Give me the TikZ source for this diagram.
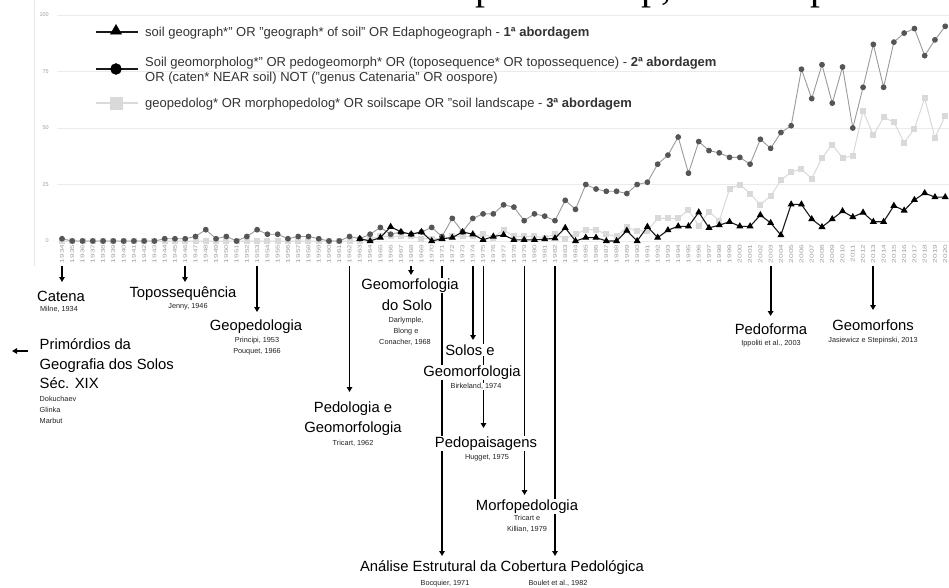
\documentclass[tikz,border=0pt]{standalone}
\usepackage{fontspec}
\usepackage{graphicx}
\setmainfont{Liberation Sans}
\newfontfamily\serifcut{Liberation Serif}
\usetikzlibrary{arrows.meta,backgrounds,plotmarks}

\definecolor{gridc}{HTML}{EBEBEB}
\definecolor{axisc}{HTML}{E8E8E8}
\definecolor{axislbl}{HTML}{A0A0A0}
\definecolor{serA}{HTML}{1A1A1A}
\definecolor{serBline}{HTML}{9A9A9A}
\definecolor{serBmark}{HTML}{555555}
\definecolor{serC}{HTML}{D9D9D9}
\definecolor{legtext}{HTML}{333333}
\definecolor{reftext}{HTML}{222222}

\tikzset{
 big/.style={font=\fontsize{14.8}{17}\selectfont, inner sep=0.5pt, fill=white, anchor=base},
 ref/.style={font=\fontsize{7.3}{8.5}\selectfont, text=reftext, inner sep=0.5pt, fill=white, anchor=base},
 arr/.style={-{Triangle[length=5pt,width=5.5pt]}, line width=1.8pt},
 leg/.style={font=\fontsize{13}{15}\selectfont, text=legtext, anchor=base west, inner sep=0pt},
 yrlbl/.style={font=\fontsize{5.5}{6}\selectfont, text=axislbl, rotate=90, anchor=east, inner sep=0pt},
 ticklbl/.style={font=\fontsize{5.5}{6}\selectfont, text=axislbl, anchor=east, inner sep=0pt},
 fragtext/.style={font=\serifcut\fontsize{40}{40}\selectfont, anchor=base, inner sep=0pt},
}

\begin{document}
\begin{tikzpicture}[x=1pt,y=-1pt]
\useasboundingbox (0,0) rectangle (949,588);
\begin{pgfonlayer}{background}
\fill[white] (0,0) rectangle (949,588);
\end{pgfonlayer}

% cut-off text of the page above
\begin{scope}
\clip (0,0) rectangle (949,588);
\node[fragtext] (frag1) at (485,-0.5) {p};
\node[fragtext] (frag2) at (656,-0.5) {p,};
\node[fragtext] (frag3) at (820,-0.5) {p};
\end{scope}

% axis and grid
\draw[axisc, line width=0.8pt] (34,0) -- (34,266);
\foreach \v in {0,25,50,75,100}{
  \draw[gridc, line width=0.8pt] (57,{241-2.26*\v}) -- (949,{241-2.26*\v});
  \node[ticklbl] (tk\v) at (49,{241-2.26*\v}) {\v};
}
\foreach \i in {0,...,86}{
  \pgfmathtruncatemacro{\yr}{1934+\i}
  \node[yrlbl] (yl\i) at ({62+10.27*\i},244.5) {\scalebox{1.5}[1]{\yr}};
}

% data series
\begin{scope}[shift={(62,241)}, x=10.27pt, y=2.26pt]
\draw[serC, line width=1pt] plot[mark=square*, mark size=2.5pt, mark options={fill=serC, draw=serC}] coordinates {
(0,0)(1,0)(2,0)(3,0)(4,0)(5,0)(6,0)(7,0)(8,0)(9,0)(10,0)(11,0)(12,0)(13,0)(14,0)(15,0)(16,0)(17,0)(18,0)(19,0)(20,0)(21,0)(22,0)(23,0)(24,0)(25,0)(26,0)(27,0)(28,0)(29,0)
(30,1)(31,2)(32,2)(33,2)(34,2)(35,1)(36,1)(37,1)(38,2)(39,2)(40,2)(41,3)(42,1.5)(43,5)(44,2)(45,2)(46,2)(47,1.5)(48,3)(49,1)(50,3)(51,5)(52,5)(53,3)(54,2)(55,6)(56,4.4)(57,4.5)(58,10)(59,10)(60,10)(61,13.8)(62,6.8)(63,13)(64,9)(65,23)(66,25)(67,21)(68,16)(69,20)(70,26.8)(71,30.6)(72,31.8)(73,27.6)(74,36.8)(75,42.6)(76,36.8)(77,37.6)(78,57.6)(79,46.8)(80,54.7)(81,52.6)(82,43.5)(83,49.7)(84,63.2)(85,45.6)(86,55.4)};
\draw[serBline, line width=0.9pt] plot[mark=*, mark size=2.4pt, mark options={fill=serBmark, draw=serBmark}] coordinates {
(0,1)(1,0)(2,0)(3,0)(4,0)(5,0)(6,0)(7,0)(8,0)(9,0)(10,1)(11,1)(12,1)(13,2)(14,5)(15,1)(16,2)(17,0)(18,2)(19,5)(20,3)(21,3)(22,1)(23,2)(24,2)(25,1)(26,0)(27,0)(28,2)(29,1)(30,3)(31,6)(32,3)(33,4)(34,3)(35,4)(36,6)(37,2)(38,10)(39,4)(40,10)(41,12)(42,12)(43,16)(44,15)(45,9)(46,12)(47,11)(48,9)(49,18)(50,14)(51,25)(52,23)(53,22)(54,22)(55,21)(56,25)(57,26)(58,34)(59,38)(60,46)(61,30)(62,44)(63,40)(64,39)(65,37)(66,37)(67,34)(68,45)(69,41)(70,48)(71,51)(72,76)(73,63)(74,78)(75,61)(76,77)(77,50)(78,68)(79,87)(80,68)(81,88)(82,92)(83,94)(84,82)(85,89)(86,95)};
\draw[serA, line width=1.1pt] plot[mark=triangle*, mark size=3pt, mark options={fill=black, draw=black}] coordinates {
(29,1)(30,0)(31,1.5)(32,6.3)(33,4)(34,3)(35,4)(36,0)(37,1)(38,1.5)(39,4)(40,3)(41,0.5)(42,2)(43,2.7)(44,0.5)(45,0.5)(46,0.5)(47,0.8)(48,1.2)(49,5.8)(50,0)(51,1.5)(52,1.5)(53,0)(54,0)(55,4.6)(56,0)(57,6.3)(58,1.5)(59,4.8)(60,6.5)(61,6.5)(62,12.7)(63,5.8)(64,7)(65,8.5)(66,6.5)(67,6.5)(68,11.5)(69,8)(70,2.6)(71,16.2)(72,16.2)(73,9.7)(74,6.2)(75,9.7)(76,13.2)(77,10.6)(78,12.6)(79,8.5)(80,8.5)(81,15.6)(82,13.5)(83,18.2)(84,21.2)(85,19.4)(86,19.4)};
\end{scope}

% legend
\draw[serA, line width=2.2pt] (96,32) -- (138,32);
\path plot[mark=triangle*, mark size=6.5pt, mark options={fill=black, draw=black}] coordinates {(116,31)};
\node[leg] (leg1) at (145,36.5) {soil geograph*" OR "geograph* of soil" OR Edaphogeograph - \textbf{1ª abordagem}};
\draw[serA, line width=2.2pt] (96,69) -- (138,69);
\path plot[mark=*, mark size=5.5pt, mark options={fill=black, draw=black}] coordinates {(116,69)};
\node[leg] (leg2a) at (145,66.5) {Soil geomorpholog*" OR pedogeomorph* OR (toposequence* OR topossequence) - \textbf{2ª abordagem}};
\node[leg] (leg2b) at (145,81.5) {OR (caten* NEAR soil) NOT ("genus Catenaria" OR oospore)};
\draw[serC, line width=2.2pt] (96,103) -- (138,103);
\path plot[mark=square*, mark size=6pt, mark options={fill=serC, draw=serC}] coordinates {(116,103)};
\node[leg] (leg3) at (145,107.5) {geopedolog* OR morphopedolog* OR soilscape OR "soil landscape - \textbf{3ª abordagem}};

% timeline labels
\node[big] (catena) at (61,301.5) {Catena};
\node[ref] (milne) at (59,311.5) {Milne, 1934};
\node[big] (topo) at (183,297.5) {Topossequência};
\node[ref] (jenny) at (188,308.5) {Jenny, 1946};
\node[big] (geoped) at (256,330.5) {Geopedologia};
\node[ref] (principi) at (257,342.5) {Principi, 1953};
\node[ref] (pouquet) at (257,353.5) {Pouquet, 1966};
\node[big, anchor=base west] (prim1) at (39,349.5) {Primórdios da};
\node[big, anchor=base west] (prim2) at (39,369.5) {Geografia dos Solos};
\node[big, anchor=base west] (prim3) at (39,388.5) {Séc. XIX};
\node[ref, anchor=base west] (doku) at (39,401.5) {Dokuchaev};
\node[ref, anchor=base west] (glinka) at (39,412.5) {Glinka};
\node[ref, anchor=base west] (marbut) at (39,423.5) {Marbut};
\node[big] (pg1) at (353,412.5) {Pedologia e};
\node[big] (pg2) at (353,432.5) {Geomorfologia};
\node[ref] (tricartA) at (353,445.5) {Tricart, 1962};
\node[big] (gs1) at (410,289.5) {Geomorfologia};
\node[big] (gs2) at (407,310.5) {do Solo};
\node[ref] (darl) at (406,322.5) {Darlymple,};
\node[ref] (blong) at (406,333.5) {Blong e};
\node[ref] (conacher) at (405,344.5) {Conacher, 1968};
\node[big] (ss1) at (470,355.5) {Solos e};
\node[big] (ss2) at (472,376.5) {Geomorfologia};
\node[ref] (birk) at (476,388.5) {Birkeland, 1974};
\node[big] (pedopai) at (486,447.5) {Pedopaisagens};
\node[ref] (hugget) at (487,459.5) {Hugget, 1975};
\node[big] (morfo) at (527,510.5) {Morfopedologia};
\node[ref] (tricartB) at (527,520.5) {Tricart e};
\node[ref] (killian) at (527,531.5) {Killian, 1979};
\node[big] (analise) at (502,571.5) {Análise Estrutural da Cobertura Pedológica};
\node[ref] (bocquier) at (445,585.5) {Bocquier, 1971};
\node[ref] (boulet) at (558,585.5) {Boulet et al., 1982};
\node[big] (pedoforma) at (771,334.5) {Pedoforma};
\node[ref] (ippoliti) at (771,345.5) {Ippoliti et al., 2003};
\node[big] (geomorfons) at (873,330.5) {Geomorfons};
\node[ref] (jasiewicz) at (873,342.5) {Jasiewicz e Stepinski, 2013};

% connector coordinates
\coordinate (a1934) at (62,266);   \coordinate (e1934) at (62,282);
\coordinate (a1946) at (185,266);  \coordinate (e1946) at (185,282);
\coordinate (a1953) at (257,266);  \coordinate (e1953) at (257,312);
\coordinate (a1962) at (349.5,266);\coordinate (e1962) at (349.5,392);
\coordinate (a1968) at (411,266);  \coordinate (e1968) at (411,275);
\coordinate (a1971) at (442,266);  \coordinate (e1971) at (442,556);
\coordinate (a1974) at (473,266);  \coordinate (e1974) at (473,340);
\coordinate (a1975) at (483.5,266);\coordinate (e1975) at (483.5,428);
\coordinate (a1979) at (524.5,266);\coordinate (e1979) at (524.5,495);
\coordinate (a1982) at (555,266);  \coordinate (e1982) at (555,556);
\coordinate (a2003) at (770.6,266);\coordinate (e2003) at (770.6,316);
\coordinate (a2013) at (873,266);  \coordinate (e2013) at (873,310);
\coordinate (pstart) at (28,351);  \coordinate (pleft) at (12,351);

\begin{pgfonlayer}{background}
\draw[arr] (a1934) -- (e1934);
\draw[arr] (a1946) -- (e1946);
\draw[arr] (a1953) -- (e1953);
\draw[arr] (a1962) -- (e1962);
\draw[arr] (a1968) -- (e1968);
\draw[arr] (a1971) -- (e1971);
\draw[arr] (a1974) -- (e1974);
\draw[arr] (a1975) -- (e1975);
\draw[arr] (a1979) -- (e1979);
\draw[arr] (a1982) -- (e1982);
\draw[arr] (a2003) -- (e2003);
\draw[arr] (a2013) -- (e2013);
\draw[arr] (pstart) -- (pleft);
\end{pgfonlayer}
\end{tikzpicture}
\end{document}
